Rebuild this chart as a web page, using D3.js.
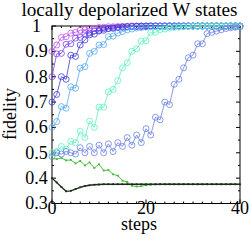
<!DOCTYPE html>
<html>
<head>
<meta charset="utf-8">
<script src="https://cdn.jsdelivr.net/npm/d3@7"></script>
<style>
	body { margin: 0; background: #fff; }
</style>
</head>
<body>
<div id="chart"></div>
<script>
// steps on the x axis
const steps = d3.range(0, 41);

// fidelity per step, one array per initial state
const magenta = [0.900, 0.925, 0.955, 0.958, 0.972, 0.975, 0.983, 0.985, 0.990, 0.991, 0.994, 0.995, 0.997, 0.997, 0.998, 0.999, 0.999,
	1, 1, 1, 1, 1, 1, 1, 1, 1, 1, 1, 1, 1, 1, 1, 1, 1, 1, 1, 1, 1, 1, 1, 1];
const violet = [0.800, 0.890, 0.892, 0.928, 0.930, 0.952, 0.955, 0.970, 0.972, 0.981, 0.983, 0.989, 0.990, 0.993, 0.994, 0.996, 0.997, 0.998, 0.998, 0.999, 0.999,
	1, 1, 1, 1, 1, 1, 1, 1, 1, 1, 1, 1, 1, 1, 1, 1, 1, 1, 1, 1];
const darkBlue = [0.700, 0.730, 0.800, 0.790, 0.885, 0.880, 0.925, 0.945, 0.965, 0.968, 0.980, 0.983, 0.990, 0.991, 0.994, 0.995, 0.997, 0.998, 0.999, 0.999,
	1, 1, 1, 1, 1, 1, 1, 1, 1, 1, 1, 1, 1, 1, 1, 1, 1, 1, 1, 1, 1];
const lightBlue = [0.600, 0.623, 0.682, 0.676, 0.760, 0.755, 0.834, 0.840, 0.892, 0.900, 0.925, 0.927, 0.958, 0.960, 0.972, 0.978, 0.985, 0.988, 0.992, 0.994,
	0.996, 0.997, 0.998, 0.999, 0.999, 1, 1, 1, 1, 1, 1, 1, 1, 1, 1, 1, 1, 1, 1, 1, 1];
const aqua = [0.500, 0.505, 0.525, 0.515, 0.545, 0.540, 0.585, 0.560, 0.625, 0.600, 0.680, 0.680, 0.740, 0.750, 0.785, 0.835, 0.855, 0.900, 0.910, 0.940,
	0.942, 0.975, 0.975, 0.985, 0.988, 0.992, 0.994, 0.996, 0.997, 0.998, 0.999, 0.999, 1, 1, 1, 1, 1, 1, 1, 1, 1];
const slate = [0.485, 0.500, 0.495, 0.505, 0.500, 0.495, 0.520, 0.500, 0.525, 0.500, 0.530, 0.500, 0.535, 0.505, 0.540, 0.525, 0.560, 0.530, 0.570, 0.540,
	0.595, 0.570, 0.640, 0.630, 0.700, 0.690, 0.770, 0.790, 0.835, 0.875, 0.885, 0.930, 0.930, 0.970, 0.975, 0.980, 0.985, 0.990, 0.993, 0.995, 0.997];
const green = [0.480, 0.475, 0.480, 0.470, 0.472, 0.458, 0.468, 0.450, 0.462, 0.440, 0.455, 0.430, 0.432, 0.415, 0.410, 0.390, 0.385, 0.370, 0.367, 0.368,
	0.372, 0.374, 0.375, 0.376, 0.376, 0.376, 0.376, 0.376, 0.376, 0.376, 0.376, 0.376, 0.376, 0.376, 0.376, 0.376, 0.376, 0.376, 0.376, 0.376, 0.376];
const black = [0.400, 0.383, 0.365, 0.348, 0.350, 0.357, 0.364, 0.369, 0.372, 0.374, 0.375, 0.376, 0.376, 0.376, 0.376, 0.376, 0.376, 0.376, 0.376, 0.376,
	0.376, 0.376, 0.376, 0.376, 0.376, 0.376, 0.376, 0.376, 0.376, 0.376, 0.376, 0.376, 0.376, 0.376, 0.376, 0.376, 0.376, 0.376, 0.376, 0.376, 0.376];

const yTicks = [0.3, 0.4, 0.5, 0.6, 0.7, 0.8, 0.9, 1];
const xTicks = [0, 20, 40];

// draw order matters: later series sit on top
const circleSeries = [
	{ values: magenta, color: "#c050f0" },
	{ values: violet, color: "#7a44ec" },
	{ values: darkBlue, color: "#3c3cd8" },
	{ values: lightBlue, color: "#58a8f4" },
	{ values: aqua, color: "#5ef0c0" },
	{ values: slate, color: "#6a82e2" },
];
const dotSeries = [
	{ values: green, color: "#3cb832", width: 0.9 },
	{ values: black, color: "#1c2c1c", width: 1.3 },
];

const width = 251;
const height = 242;
const margin = { left: 52, right: 11, top: 26, bottom: 38.5 };
const font = "'Liberation Serif', 'Times New Roman', serif";

const x = d3.scaleLinear()
	.domain([0, 40])
	.range([margin.left, width - margin.right]);
const y = d3.scaleLinear()
	.domain([0.3, 1])
	.range([height - margin.bottom, margin.top]);

const svg = d3.create("svg")
	.attr("width", width)
	.attr("height", height)
	.attr("viewBox", [0, 0, width, height])
	.attr("font-family", font);

// frame with inward ticks on all four sides
const frame = svg.append("g").attr("stroke", "#000").attr("stroke-width", 1);
frame.append("rect")
	.attr("x", x(0))
	.attr("y", y(1))
	.attr("width", x(40) - x(0))
	.attr("height", y(0.3) - y(1))
	.attr("fill", "none");

const minorX = d3.range(0, 41, 2);
const minorY = d3.range(0.3, 1.0001, 0.05);
for (const side of ["bottom", "top"]) {
	const y0 = side === "bottom" ? y(0.3) : y(1);
	const dir = side === "bottom" ? -1 : 1;
	frame.append("g")
		.selectAll("line")
		.data(minorX)
		.join("line")
		.attr("x1", (d) => x(d))
		.attr("x2", (d) => x(d))
		.attr("y1", y0)
		.attr("y2", (d) => y0 + dir * (xTicks.includes(d) ? 4 : 2));
}
for (const side of ["left", "right"]) {
	const x0 = side === "left" ? x(0) : x(40);
	const dir = side === "left" ? 1 : -1;
	frame.append("g")
		.selectAll("line")
		.data(minorY)
		.join("line")
		.attr("y1", (d) => y(d))
		.attr("y2", (d) => y(d))
		.attr("x1", x0)
		.attr("x2", (d, i) => x0 + dir * (i % 2 === 0 ? 4 : 2));
}

// curves with open circles
const line = d3.line()
	.x((d, i) => x(steps[i]))
	.y((d) => y(d));

for (const s of circleSeries) {
	const g = svg.append("g").attr("stroke", s.color).attr("fill", "none");
	g.append("path")
		.attr("d", line(s.values))
		.attr("stroke-width", 0.8);
	g.selectAll("circle")
		.data(s.values)
		.join("circle")
		.attr("cx", (d, i) => x(steps[i]))
		.attr("cy", (d) => y(d))
		.attr("r", 3)
		.attr("stroke-width", 0.8);
}

// curves with small square dots
for (const s of dotSeries) {
	const g = svg.append("g");
	g.append("path")
		.attr("d", line(s.values))
		.attr("fill", "none")
		.attr("stroke", s.color)
		.attr("stroke-width", s.width);
	g.selectAll("rect")
		.data(s.values)
		.join("rect")
		.attr("x", (d, i) => x(steps[i]) - 0.9)
		.attr("y", (d) => y(d) - 0.9)
		.attr("width", 1.8)
		.attr("height", 1.8)
		.attr("fill", s.color);
}

// tick labels
svg.append("g")
	.attr("font-size", 18)
	.attr("text-anchor", "middle")
	.selectAll("text")
	.data(yTicks)
	.join("text")
	.attr("x", 36.5)
	.attr("y", (d) => y(d))
	.attr("dy", "0.33em")
	.text((d) => d3.format("")(d));

svg.append("g")
	.attr("font-size", 18)
	.attr("text-anchor", "middle")
	.selectAll("text")
	.data(xTicks)
	.join("text")
	.attr("x", (d) => x(d))
	.attr("y", 214)
	.text((d) => d);

// axis titles and chart title
svg.append("text")
	.attr("x", 139)
	.attr("y", 230)
	.attr("text-anchor", "middle")
	.attr("font-size", 18)
	.text("steps");

svg.append("text")
	.attr("transform", "translate(16,114) rotate(-90)")
	.attr("text-anchor", "middle")
	.attr("font-size", 18)
	.text("fidelity");

svg.append("text")
	.attr("x", 129.5)
	.attr("y", 15.5)
	.attr("text-anchor", "middle")
	.attr("font-size", 19.2)
	.text("locally depolarized W states");

document.getElementById("chart").appendChild(svg.node());
</script>
</body>
</html>
